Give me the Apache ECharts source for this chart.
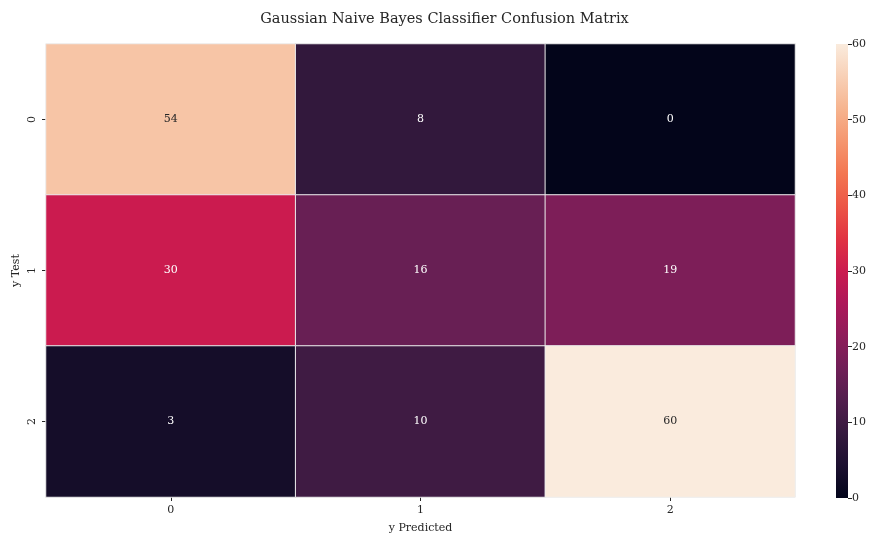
<!DOCTYPE html>
<html>
<head>
<meta charset="utf-8">
<script src="https://cdn.jsdelivr.net/npm/echarts@6/dist/echarts.min.js"></script>
<style>
html,body{margin:0;padding:0;background:#fff;}
#chart{width:889px;height:539px;}
</style>
</head>
<body>
<div id="chart"></div>
<script>
// Confusion matrix of the Gaussian Naive Bayes classifier
const predictedLabels = ['0', '1', '2'];
const testLabels = ['0', '1', '2'];
const matrix = [
  [54, 8, 0],
  [30, 16, 19],
  [3, 10, 60]
];
const colorbarTicks = [0, 10, 20, 30, 40, 50, 60];

// "rocket" colour ramp, evenly spaced from dark to light
const rocket = [
  '#03051a', '#1c1030', '#35193e', '#521e4d', '#701f57', '#8f1c5a', '#ad1759',
  '#cb1b4f', '#e13342', '#ec5646', '#f37651', '#f5966f', '#f6b48f', '#f8d0b6', '#faebdd'
];

const FONT = 'DejaVu Serif';
const vmin = colorbarTicks[0];
const vmax = colorbarTicks[colorbarTicks.length - 1];

const cells = [];
matrix.forEach((row, r) => {
  row.forEach((v, c) => {
    cells.push({
      value: [c, r, v],
      label: { color: v > 40 ? '#262626' : '#ffffff' }
    });
  });
});

// colour bar fill: bottom (vmin) to top (vmax)
const barGradient = new echarts.graphic.LinearGradient(0, 1, 0, 0,
  rocket.map((col, i) => ({ offset: i / (rocket.length - 1), color: col })));

const chart = echarts.init(document.getElementById('chart'));
chart.setOption({
  animation: false,
  backgroundColor: '#ffffff',
  textStyle: { fontFamily: FONT },
  title: {
    text: 'Gaussian Naive Bayes Classifier Confusion Matrix',
    left: 'center',
    top: 7,
    textStyle: { fontFamily: FONT, fontSize: 14.5, fontWeight: 'normal', color: '#262626' }
  },
  grid: [
    { left: 46, right: 94, top: 44, bottom: 41 },
    { left: 836, width: 12, top: 44, bottom: 41 }
  ],
  xAxis: [
    {
      type: 'category', gridIndex: 0, data: predictedLabels,
      name: 'y Predicted', nameLocation: 'middle', nameGap: 26,
      nameMoveOverlap: false,
      nameTextStyle: { fontFamily: FONT, fontSize: 11, color: '#262626' },
      axisLine: { show: false },
      axisTick: { show: true, alignWithLabel: true, length: 4, lineStyle: { color: '#262626' } },
      axisLabel: { fontFamily: FONT, fontSize: 11, color: '#262626', margin: 8 },
      splitLine: { show: false }
    },
    {
      type: 'category', gridIndex: 1, data: ['bar'], show: false
    }
  ],
  yAxis: [
    {
      type: 'category', gridIndex: 0, data: testLabels, inverse: true,
      name: 'y Test', nameLocation: 'middle', nameGap: 24,
      nameMoveOverlap: false,
      nameTextStyle: { fontFamily: FONT, fontSize: 11, color: '#262626' },
      axisLine: { show: false },
      axisTick: { show: true, alignWithLabel: true, length: 4, lineStyle: { color: '#262626' } },
      axisLabel: { fontFamily: FONT, fontSize: 11, color: '#262626', rotate: 90, margin: 8 },
      splitLine: { show: false }
    },
    {
      type: 'value', gridIndex: 1, position: 'right', min: vmin, max: vmax, interval: 10,
      axisLine: { show: false },
      axisTick: { show: true, length: 4, lineStyle: { color: '#262626' } },
      axisLabel: { fontFamily: FONT, fontSize: 11, color: '#262626', margin: 4 },
      splitLine: { show: false }
    }
  ],
  visualMap: {
    show: false,
    type: 'continuous',
    min: vmin, max: vmax,
    seriesIndex: 0,
    inRange: { color: rocket }
  },
  series: [
    {
      type: 'heatmap',
      xAxisIndex: 0, yAxisIndex: 0,
      data: cells,
      itemStyle: { borderColor: '#ececec', borderWidth: 1 },
      label: {
        show: true, fontFamily: FONT, fontSize: 11,
        formatter: p => String(p.value[2])
      },
      emphasis: { disabled: true }
    },
    {
      type: 'bar',
      xAxisIndex: 1, yAxisIndex: 1,
      data: [vmax],
      barWidth: '100%',
      itemStyle: { color: barGradient },
      emphasis: { disabled: true },
      silent: true
    }
  ]
});
</script>
</body>
</html>
